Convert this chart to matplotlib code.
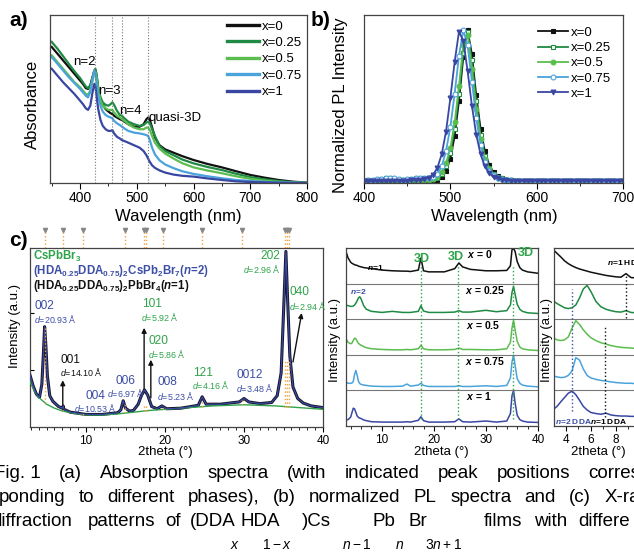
import numpy as np
import matplotlib
matplotlib.use('Agg')
import matplotlib.pyplot as plt
from matplotlib.ticker import MultipleLocator

W, H = 634, 553

plt.rcParams['font.family'] = ['Liberation Sans', 'DejaVu Sans']
plt.rcParams['mathtext.fontset'] = 'custom'
plt.rcParams['mathtext.rm'] = 'Liberation Sans'
plt.rcParams['mathtext.it'] = 'Liberation Sans:italic'
plt.rcParams['mathtext.bf'] = 'Liberation Sans:bold'
if 'mathtext.bfit' in plt.rcParams:
    plt.rcParams['mathtext.bfit'] = 'Liberation Sans:italic:bold'
plt.rcParams['axes.linewidth'] = 0.9
plt.rcParams['axes.edgecolor'] = '#444444'

# ---------------- data ----------------
labels = ['x=0', 'x=0.25', 'x=0.5', 'x=0.75', 'x=1']
colors = ['#111111', '#1f8a43', '#5cbd4f', '#4ba3dc', '#3947a3']

# (a) absorption spectra
abs_nm = [350, 360, 370, 380, 390, 400, 405, 410, 414, 418, 422, 425, 427, 429, 432, 436,
          440, 445, 450, 454, 457, 460, 465, 470, 474, 478, 485, 495, 505, 512, 517, 520,
          523, 527, 532, 540, 550, 565, 580, 600, 625, 650, 675, 700, 725, 750, 775, 800]
abs_x0 = [0.81, 0.77, 0.73, 0.69, 0.65, 0.61, 0.59, 0.565, 0.56, 0.58, 0.63, 0.665, 0.67, 0.64, 0.56, 0.50,
          0.465, 0.44, 0.425, 0.415, 0.41, 0.40, 0.39, 0.38, 0.375, 0.365, 0.35, 0.335, 0.335, 0.35, 0.38, 0.39,
          0.375, 0.33, 0.27, 0.225, 0.20, 0.18, 0.16, 0.137, 0.113, 0.093, 0.07, 0.048, 0.032, 0.018, 0.008, 0.002]
abs_x25 = [0.84, 0.80, 0.755, 0.71, 0.665, 0.625, 0.60, 0.575, 0.565, 0.58, 0.63, 0.67, 0.68, 0.65, 0.57, 0.51,
           0.48, 0.465, 0.46, 0.47, 0.48, 0.465, 0.43, 0.405, 0.40, 0.385, 0.365, 0.35, 0.34, 0.345, 0.36, 0.365,
           0.355, 0.32, 0.28, 0.22, 0.19, 0.165, 0.14, 0.117, 0.095, 0.077, 0.055, 0.035, 0.022, 0.012, 0.005, 0.001]
abs_x50 = [0.76, 0.72, 0.68, 0.64, 0.60, 0.57, 0.55, 0.53, 0.525, 0.55, 0.61, 0.655, 0.66, 0.63, 0.55, 0.49,
           0.46, 0.445, 0.435, 0.435, 0.435, 0.42, 0.40, 0.39, 0.38, 0.37, 0.35, 0.33, 0.32, 0.32, 0.33, 0.33,
           0.315, 0.28, 0.24, 0.205, 0.175, 0.145, 0.118, 0.093, 0.074, 0.058, 0.04, 0.025, 0.014, 0.007, 0.003, 0.001]
abs_x75 = [0.75, 0.71, 0.67, 0.63, 0.595, 0.56, 0.54, 0.52, 0.51, 0.54, 0.62, 0.67, 0.655, 0.60, 0.52, 0.46,
           0.425, 0.405, 0.395, 0.39, 0.385, 0.37, 0.355, 0.345, 0.335, 0.325, 0.31, 0.30, 0.295, 0.29, 0.285, 0.28,
           0.255, 0.21, 0.17, 0.135, 0.11, 0.088, 0.07, 0.054, 0.04, 0.028, 0.018, 0.012, 0.007, 0.004, 0.002, 0.0]
abs_x100 = [0.68, 0.64, 0.60, 0.565, 0.53, 0.49, 0.47, 0.445, 0.435, 0.46, 0.54, 0.59, 0.575, 0.52, 0.44, 0.375,
            0.34, 0.32, 0.31, 0.31, 0.315, 0.295, 0.275, 0.265, 0.255, 0.25, 0.24, 0.225, 0.21, 0.19, 0.165, 0.145,
            0.125, 0.105, 0.09, 0.075, 0.062, 0.05, 0.043, 0.038, 0.027, 0.018, 0.01, 0.006, 0.004, 0.002, 0.001, 0.0]
abs_lines = [427, 457, 474, 520]

# (b) normalized PL, 400-700 nm every 5 nm
pl_nm = np.arange(400, 705, 5)
pl_x0 = [0.0, 0.0, 0.0, 0.0, 0.0, 0.0, 0.0, 0.0, 0.0, 0.0, 0.0, 0.0, 0.0, 0.0, 0.0, 0.0,
         0.0, 0.01, 0.03, 0.07, 0.15, 0.30, 0.53, 0.82, 1.00, 0.84, 0.57, 0.35, 0.20, 0.11, 0.06, 0.035,
         0.02, 0.012, 0.008, 0.006, 0.005, 0.005, 0.004, 0.004, 0.004, 0.004, 0.003, 0.003, 0.003, 0.003,
         0.003, 0.003, 0.003, 0.003, 0.003, 0.003, 0.003, 0.003, 0.003, 0.003, 0.003, 0.003, 0.003, 0.003, 0.003]
pl_x25 = [0.005, 0.008, 0.01, 0.012, 0.015, 0.02, 0.022, 0.018, 0.012, 0.01, 0.012, 0.016, 0.02, 0.02, 0.016, 0.014,
          0.015, 0.025, 0.05, 0.10, 0.19, 0.35, 0.58, 0.85, 0.99, 0.80, 0.53, 0.31, 0.17, 0.09, 0.05, 0.03,
          0.02, 0.012, 0.008, 0.006, 0.005, 0.005, 0.004, 0.004, 0.004, 0.004, 0.004, 0.004, 0.004, 0.004,
          0.004, 0.004, 0.004, 0.004, 0.004, 0.004, 0.004, 0.004, 0.004, 0.004, 0.004, 0.004, 0.004, 0.004, 0.004]
pl_x50 = [0.004, 0.005, 0.006, 0.007, 0.008, 0.01, 0.01, 0.009, 0.008, 0.008, 0.009, 0.01, 0.012, 0.012, 0.012, 0.013,
          0.016, 0.03, 0.06, 0.12, 0.22, 0.39, 0.63, 0.90, 0.97, 0.74, 0.48, 0.28, 0.15, 0.08, 0.045, 0.025,
          0.015, 0.01, 0.007, 0.005, 0.004, 0.004, 0.004, 0.004, 0.004, 0.004, 0.004, 0.004, 0.004, 0.004,
          0.004, 0.004, 0.004, 0.004, 0.004, 0.004, 0.004, 0.004, 0.004, 0.004, 0.004, 0.004, 0.004, 0.004, 0.004]
pl_x75 = [0.006, 0.008, 0.012, 0.015, 0.018, 0.022, 0.024, 0.02, 0.014, 0.012, 0.014, 0.018, 0.022, 0.024, 0.022, 0.022,
          0.03, 0.05, 0.10, 0.20, 0.36, 0.58, 0.83, 1.00, 0.90, 0.66, 0.42, 0.24, 0.13, 0.07, 0.04, 0.025,
          0.015, 0.01, 0.007, 0.005, 0.004, 0.004, 0.004, 0.004, 0.004, 0.004, 0.004, 0.004, 0.004, 0.004,
          0.004, 0.004, 0.004, 0.004, 0.004, 0.004, 0.004, 0.004, 0.004, 0.004, 0.004, 0.004, 0.004, 0.004, 0.004]
pl_x100 = [0.0, 0.0, 0.002, 0.003, 0.004, 0.005, 0.005, 0.005, 0.005, 0.006, 0.006, 0.007, 0.008, 0.01, 0.015, 0.025,
           0.045, 0.09, 0.18, 0.33, 0.55, 0.79, 0.99, 0.93, 0.73, 0.50, 0.31, 0.18, 0.10, 0.055, 0.03, 0.02,
           0.012, 0.008, 0.006, 0.005, 0.005, 0.005, 0.005, 0.005, 0.005, 0.005, 0.005, 0.005, 0.005, 0.005,
           0.005, 0.005, 0.005, 0.005, 0.005, 0.005, 0.005, 0.005, 0.005, 0.005, 0.005, 0.005, 0.005, 0.005, 0.005]
pl_markers = ['s', 's', 'o', 'o', 'v']
pl_filled = [True, False, True, False, True]

# (c) XRD of the x=0.75 film with fit and background
xrd_tt = [2.9, 3.3, 3.7, 4.1, 4.4, 4.6, 4.75, 4.9, 5.1, 5.4, 5.8, 6.5, 7.0, 7.1, 7.2, 8.0, 10.0, 12.0, 14.0, 14.4,
          14.7, 15.0, 15.5, 16.0, 16.6, 17.0, 17.4, 17.8, 18.3, 19.0, 19.6, 20.2, 22.0, 24.2, 24.7, 25.2, 27.0,
          29.4, 30.0, 30.6, 32.0, 33.5, 34.2, 34.7, 35.0, 35.3, 35.5, 35.8, 36.2, 36.8, 37.5, 38.5, 40.0]
xrd_int = [0.91, 0.72, 0.58, 0.52, 0.75, 1.30, 1.76, 1.45, 0.90, 0.55, 0.45, 0.36, 0.33, 0.37, 0.31, 0.26, 0.22,
           0.22, 0.25, 0.30, 0.46, 0.33, 0.28, 0.29, 0.40, 0.55, 0.65, 0.56, 0.36, 0.32, 0.37, 0.32, 0.33, 0.38,
           0.53, 0.40, 0.40, 0.44, 0.50, 0.44, 0.41, 0.43, 0.55, 0.95, 2.00, 3.08, 2.30, 1.25, 0.70, 0.50, 0.42,
           0.37, 0.34]
bg_tt = [2.9, 3.5, 4.0, 5.0, 6.0, 7.0, 8.5, 10, 12, 14, 16, 18, 20, 22, 24, 26, 28, 30, 32, 34, 36, 38, 40]
bg_int = [0.80, 0.62, 0.52, 0.40, 0.33, 0.28, 0.24, 0.21, 0.21, 0.23, 0.26, 0.29, 0.31, 0.33, 0.35, 0.37, 0.38,
          0.39, 0.38, 0.37, 0.35, 0.33, 0.31]
ref_tt = [4.8, 7.1, 9.6, 14.9, 17.3, 17.6, 19.7, 24.7, 29.7, 35.2, 35.5, 35.7]
ref_top = [1.73, 0.30, 0.27, 0.42, 0.40, 0.40, 0.36, 0.45, 0.47, 1.20, 1.20, 1.20]

# peak labels: (text, 2theta, intensity, colour key)
peak_hkl = [('002', 3.5, 2.12, 'b'), ('001', 6.7, 1.17, 'k'), ('004', 9.9, 0.55, 'b'),
            ('006', 13.7, 0.81, 'b'), ('101', 17.1, 2.15, 'g'), ('020', 17.9, 1.50, 'g'),
            ('008', 19.0, 0.79, 'b'), ('121', 23.5, 0.95, 'g'), ('0012', 29.0, 0.92, 'b'),
            ('202', 32.1, 3.00, 'g'), ('040', 35.7, 2.36, 'g')]
peak_d = [('20.93', 3.45, 1.90, 'b'), ('14.10', 6.7, 0.96, 'k'), ('10.53', 8.5, 0.34, 'b'),
          ('6.97', 12.7, 0.60, 'b'), ('5.92', 17.0, 1.93, 'g'), ('5.86', 17.9, 1.28, 'g'),
          ('5.23', 19.0, 0.55, 'b'), ('4.16', 23.4, 0.73, 'g'), ('3.48', 29.0, 0.69, 'b'),
          ('2.96', 29.9, 2.77, 'g'), ('2.94', 35.7, 2.13, 'g')]

# (c) middle: stacked XRD for each x
mid_tt = [3.1, 3.5, 4.0, 4.25, 4.5, 4.75, 5.0, 5.25, 5.5, 5.75, 6.0, 6.5, 7.0, 8.0, 10.0, 12.0, 14.0, 14.8,
          15.5, 17.0, 17.5, 18.0, 19.0, 20.0, 22.0, 24.0, 24.8, 25.5, 27.0, 30.0, 32.0, 34.0, 34.7, 35.0,
          35.3, 35.6, 36.0, 36.5, 37.0, 38.0, 40.0]
mid_x0 = [0.90, 0.72, 0.60, 0.57, 0.55, 0.53, 0.52, 0.51, 0.49, 0.48, 0.47, 0.45, 0.44, 0.42, 0.38, 0.36, 0.35,
          0.35, 0.34, 0.38, 0.72, 0.36, 0.33, 0.33, 0.33, 0.42, 0.58, 0.47, 0.40, 0.36, 0.36, 0.37, 0.50, 0.95,
          0.99, 0.90, 0.62, 0.45, 0.38, 0.33, 0.29]
mid_x25 = [0.40, 0.38, 0.36, 0.36, 0.37, 0.40, 0.45, 0.52, 0.60, 0.63, 0.57, 0.38, 0.28, 0.22, 0.19, 0.22, 0.19,
           0.19, 0.19, 0.22, 0.38, 0.23, 0.19, 0.19, 0.19, 0.20, 0.24, 0.20, 0.20, 0.25, 0.21, 0.24, 0.40, 0.75,
           0.92, 0.70, 0.42, 0.28, 0.22, 0.18, 0.16]
mid_x50 = [0.46, 0.35, 0.31, 0.33, 0.40, 0.47, 0.45, 0.38, 0.32, 0.29, 0.27, 0.23, 0.20, 0.17, 0.15, 0.14, 0.14,
           0.15, 0.14, 0.17, 0.27, 0.17, 0.14, 0.14, 0.14, 0.15, 0.19, 0.15, 0.15, 0.14, 0.14, 0.17, 0.35, 0.75,
           0.97, 0.70, 0.38, 0.22, 0.17, 0.14, 0.12]
mid_x75 = [0.23, 0.20, 0.20, 0.21, 0.25, 0.45, 0.56, 0.42, 0.25, 0.19, 0.17, 0.15, 0.14, 0.12, 0.11, 0.11, 0.12,
           0.18, 0.12, 0.15, 0.20, 0.14, 0.11, 0.11, 0.11, 0.11, 0.13, 0.11, 0.11, 0.13, 0.11, 0.14, 0.35, 0.80,
           0.99, 0.70, 0.33, 0.20, 0.15, 0.12, 0.10]
mid_x100 = [0.17, 0.18, 0.25, 0.38, 0.50, 0.48, 0.38, 0.28, 0.24, 0.22, 0.21, 0.17, 0.15, 0.12, 0.11, 0.11, 0.11,
            0.12, 0.11, 0.16, 0.26, 0.15, 0.11, 0.11, 0.11, 0.12, 0.20, 0.12, 0.11, 0.14, 0.11, 0.14, 0.35, 0.85,
            1.00, 0.65, 0.30, 0.18, 0.14, 0.11, 0.10]
mid_3d = [17.5, 24.7, 35.2]
x_texts = ['0', '0.25', '0.5', '0.75', '1']

# (c) right: low-angle zoom
rt_tt = [3.06, 3.3, 3.6, 3.9, 4.2, 4.5, 4.8, 5.1, 5.4, 5.7, 6.0, 6.4, 6.8, 7.2, 7.6, 8.0, 8.4, 8.8, 9.2, 9.6, 10.0]
rt_x0 = [0.93, 0.85, 0.75, 0.64, 0.56, 0.50, 0.45, 0.41, 0.38, 0.35, 0.32, 0.29, 0.26, 0.23, 0.21, 0.19, 0.18,
         0.28, 0.17, 0.16, 0.15]
rt_x25 = [0.50, 0.44, 0.38, 0.32, 0.30, 0.32, 0.40, 0.60, 0.85, 0.95, 0.78, 0.50, 0.35, 0.28, 0.24, 0.21, 0.20,
          0.24, 0.19, 0.18, 0.17]
rt_x50 = [0.47, 0.42, 0.40, 0.42, 0.50, 0.75, 0.96, 0.85, 0.70, 0.58, 0.48, 0.40, 0.34, 0.30, 0.26, 0.23, 0.21,
          0.20, 0.19, 0.18, 0.17]
rt_x75 = [0.40, 0.38, 0.36, 0.37, 0.42, 0.55, 0.92, 0.85, 0.60, 0.42, 0.35, 0.31, 0.28, 0.26, 0.24, 0.22, 0.21,
          0.20, 0.20, 0.19, 0.19]
rt_x100 = [0.48, 0.55, 0.68, 0.80, 0.92, 0.98, 0.88, 0.72, 0.55, 0.45, 0.38, 0.35, 0.33, 0.36, 0.31, 0.29, 0.28,
           0.28, 0.27, 0.27, 0.26]

TXT = {'g': '#2ea34a', 'b': '#3d4ea6', 'k': '#111111'}
ORANGE = '#f0a03c'


def box(l, t, r, b):
    return [l / W, 1 - b / H, (r - l) / W, (b - t) / H]


fig = plt.figure(figsize=(W / 100, H / 100), dpi=100)


def ftext(x, y, s, **kw):
    return fig.text(x / W, 1 - y / H, s, **kw)


# ---------------- (a) ----------------
ax_a = fig.add_axes(box(50, 15, 307, 183))
for vals, c, lab in zip([abs_x0, abs_x25, abs_x50, abs_x75, abs_x100], colors, labels):
    ax_a.plot(abs_nm, vals, color=c, lw=1.6, label=lab)
for v in abs_lines:
    ax_a.axvline(v, color='#777777', lw=0.8, ls=':')
ax_a.set_xlim(347, 800)
ax_a.set_ylim(0, 1)
ax_a.set_yticks([])
ax_a.xaxis.set_major_locator(MultipleLocator(100))
ax_a.xaxis.set_minor_locator(MultipleLocator(50))
ax_a.tick_params(axis='x', which='major', length=4, labelsize=10, pad=2)
ax_a.tick_params(axis='x', which='minor', length=2.5)
for s, xx, yy in [('n=2', 408, 0.72), ('n=3', 452, 0.545), ('n=4', 488, 0.43), ('quasi-3D', 568, 0.385)]:
    ax_a.text(xx, yy, s, fontsize=9.5, ha='center', va='center')
leg = ax_a.legend(loc='upper right', frameon=False, fontsize=9.5, handlelength=2.4,
                  handletextpad=0.2, labelspacing=0.32, borderaxespad=0.0)
for h in leg.get_lines():
    h.set_linewidth(2.4)

# ---------------- (b) ----------------
ax_b = fig.add_axes(box(364, 15, 623, 183))
for vals, c, lab, m, f in zip([pl_x0, pl_x25, pl_x50, pl_x75, pl_x100], colors, labels, pl_markers, pl_filled):
    ax_b.plot(pl_nm, vals, color=c, lw=1.3, marker=m, ms=3.5, mew=0.8,
              mfc=c if f else 'white', mec=c, label=lab)
ax_b.set_xlim(400, 700)
ax_b.set_ylim(-0.01, 1.1)
ax_b.set_yticks([])
ax_b.xaxis.set_major_locator(MultipleLocator(100))
ax_b.xaxis.set_minor_locator(MultipleLocator(50))
ax_b.tick_params(axis='x', which='major', length=4, labelsize=10, pad=2)
ax_b.tick_params(axis='x', which='minor', length=2.5)
ax_b.legend(loc='upper right', frameon=False, fontsize=9.5, handlelength=2.3,
            handletextpad=0.2, labelspacing=0.22, borderaxespad=0.5)

# ---------------- (c) main ----------------
ax_c = fig.add_axes(box(30, 248, 323, 427))
ax_c.plot(bg_tt, bg_int, color='#2ea34a', lw=1.0, zorder=3)
ax_c.plot(xrd_tt, xrd_int, color='#151525', lw=2.2, zorder=2)
ax_c.plot(xrd_tt, xrd_int, color='#3947a3', lw=0.9, zorder=4)
for xx, top in zip(ref_tt, ref_top):
    ax_c.plot([xx, xx], [np.interp(xx, bg_tt, bg_int), top], color=ORANGE, lw=1.0, ls=':', zorder=5)
ax_c.set_xlim(2.9, 40)
ax_c.set_ylim(0, 3.14)
ax_c.set_yticks([1, 2])
ax_c.set_yticklabels([])
ax_c.xaxis.set_major_locator(MultipleLocator(10))
ax_c.xaxis.set_minor_locator(MultipleLocator(1))
ax_c.tick_params(axis='x', which='major', length=3.5, labelsize=8.5, pad=2)
ax_c.tick_params(axis='x', which='minor', length=2)
ax_c.tick_params(axis='y', length=3, direction='in')

for s, xx, yy, k in peak_hkl:
    ax_c.text(xx, yy, s, color=TXT[k], fontsize=8.6, ha='left', va='center', clip_on=False)
for s, xx, yy, k in peak_d:
    ax_c.text(xx, yy, r'$d$=' + s + ' Å', color=TXT[k], fontsize=6.4, ha='left', va='center', clip_on=False)

ax_c.text(3.3, 2.99, r'CsPbBr$_{\mathbf{3}}$', color=TXT['g'], fontsize=8.3, fontweight='bold', va='center')
ax_c.text(3.3, 2.73, r'(HDA$_{\mathbf{0.25}}$DDA$_{\mathbf{0.75}}$)$_{\mathbf{2}}$CsPb$_{\mathbf{2}}$Br$_{\mathbf{7}}$($\mathbfit{n}$=2)',
          color=TXT['b'], fontsize=8.3, fontweight='bold', va='center')
ax_c.text(3.3, 2.47, r'(HDA$_{\mathbf{0.25}}$DDA$_{\mathbf{0.75}}$)$_{\mathbf{2}}$PbBr$_{\mathbf{4}}$($\mathbfit{n}$=1)',
          color=TXT['k'], fontsize=8.3, fontweight='bold', va='center')

arw = dict(arrowstyle='-|>', color='#111111', lw=1.0, mutation_scale=7, shrinkA=0, shrinkB=0)
ax_c.annotate('', xy=(7.05, 0.82), xytext=(7.05, 0.33), arrowprops=arw)
ax_c.annotate('', xy=(17.35, 1.74), xytext=(17.35, 0.66), arrowprops=arw)
ax_c.annotate('', xy=(18.2, 1.18), xytext=(18.2, 0.51), arrowprops=arw)
ax_c.annotate('', xy=(37.3, 2.0), xytext=(36.2, 1.14), arrowprops=arw)

# reference markers above panel c
ax_t = fig.add_axes(box(30, 227, 323, 248), sharex=ax_c)
ax_t.set_ylim(0, 1)
ax_t.axis('off')
for xx in ref_tt:
    ax_t.plot([xx, xx], [0, 0.8], color=ORANGE, lw=1.0, ls=':')
ax_t.plot(ref_tt, [0.88] * len(ref_tt), ls='none', marker='v', ms=3, color='#888888')

# ---------------- (c) middle ----------------
ax_m = fig.add_axes(box(346, 248, 538, 426))
mids = [mid_x0, mid_x25, mid_x50, mid_x75, mid_x100]
for i, (vals, c) in enumerate(zip(mids, colors)):
    off = 4 - i
    ax_m.plot(mid_tt, np.array(vals) + off, color=c, lw=1.1)
for yy in [1, 2, 3, 4]:
    ax_m.axhline(yy, color='#777777', lw=0.8)
for xx in mid_3d:
    ax_m.plot([xx, xx], [0.2, 4.5], color='#2ea34a', lw=1.0, ls=':')
ax_m.set_xlim(3.1, 40)
ax_m.set_ylim(0, 5)
ax_m.set_yticks([])
ax_m.xaxis.set_major_locator(MultipleLocator(10))
ax_m.xaxis.set_minor_locator(MultipleLocator(2))
ax_m.tick_params(axis='x', which='major', length=3.5, labelsize=8.5, pad=2)
ax_m.tick_params(axis='x', which='minor', length=2)
for (xx, yy) in [(17.7, 4.69), (24.3, 4.75), (37.6, 4.85)]:
    ax_m.text(xx, yy, '3D', color='#2ea34a', fontsize=9, fontweight='bold', ha='center', va='center')
for i, (s, xx) in enumerate(zip(x_texts, [28.7, 29.8, 29.5, 29.8, 28.7])):
    off = 4 - i
    ax_m.text(xx, off + 0.83, r'$\mathbfit{x}$ = ' + s, fontsize=7.5, fontweight='bold',
              ha='center', va='center')
ax_m.text(8.7, 4.44, r'$\mathbfit{n}$=1', fontsize=6, fontweight='bold', ha='center', va='center')
ax_m.text(5.5, 3.77, r'$\mathbfit{n}$=2', fontsize=6, fontweight='bold', color=TXT['b'],
          ha='center', va='center')

# ---------------- (c) right ----------------
ax_r = fig.add_axes(box(554, 248, 641, 426))
rts = [rt_x0, rt_x25, rt_x50, rt_x75, rt_x100]
for i, (vals, c) in enumerate(zip(rts, colors)):
    off = 4 - i
    ax_r.plot(rt_tt, np.array(vals) + off, color=c, lw=1.1)
for yy in [1, 2, 3, 4]:
    ax_r.axhline(yy, color='#777777', lw=0.8)
ax_r.plot([8.8, 8.8], [3.03, 4.27], color='#111111', lw=1.0, ls=':')
ax_r.plot([4.53, 4.53], [0.43, 3.85], color=TXT['b'], lw=1.0, ls=':')
ax_r.plot([7.15, 7.15], [0.24, 2.77], color='#111111', lw=1.0, ls=':')
ax_r.set_xlim(3.06, 10)
ax_r.set_ylim(0, 5)
ax_r.set_yticks([])
ax_r.xaxis.set_major_locator(MultipleLocator(2))
ax_r.xaxis.set_minor_locator(MultipleLocator(1))
ax_r.tick_params(axis='x', which='major', length=3.5, labelsize=8.5, pad=2)
ax_r.tick_params(axis='x', which='minor', length=2)
ax_r.text(7.3, 4.6, r'$\mathbfit{n}$=1 HDA', fontsize=6, fontweight='bold', va='center')
ax_r.text(3.15, 0.12, r'$\mathbfit{n}$=2 DDA', fontsize=6, fontweight='bold', color=TXT['b'], va='center')
ax_r.text(5.9, 0.12, r'$\mathbfit{n}$=1 DDA', fontsize=6, fontweight='bold', va='center')

# ---------------- axis titles and panel letters ----------------
ftext(32, 104, 'Absorbance', rotation=90, fontsize=12, ha='center', va='center')
ftext(340, 105, 'Normalized PL Intensity', rotation=90, fontsize=12, ha='center', va='center')
ftext(178, 217, 'Wavelength (nm)', fontsize=12, ha='center', va='center')
ftext(494, 217, 'Wavelength (nm)', fontsize=12, ha='center', va='center')
ftext(15, 326, 'Intensity (a.u.)', rotation=90, fontsize=9.5, ha='center', va='center')
ftext(335, 340, 'Intensity (a.u.)', rotation=90, fontsize=9.5, ha='center', va='center')
ftext(547, 340, 'Intensity (a.u.)', rotation=90, fontsize=9.5, ha='center', va='center')
ftext(165, 452, '2theta (°)', fontsize=9.5, ha='center', va='center')
ftext(441, 452, '2theta (°)', fontsize=9.5, ha='center', va='center')
ftext(598, 452, '2theta (°)', fontsize=9.5, ha='center', va='center')
ftext(9, 21, 'a)', fontsize=15, fontweight='bold', va='center')
ftext(311, 21, 'b)', fontsize=15, fontweight='bold', va='center')
ftext(9, 241, 'c)', fontsize=15, fontweight='bold', va='center')

# ---------------- caption ----------------
CAP = 13.5
renderer = fig.canvas.get_renderer()


def justify(words, y, x0, x1):
    ts = [ftext(0, y, w, fontsize=CAP, va='center') for w in words]
    widths = [t.get_window_extent(renderer).width for t in ts]
    gap = (x1 - x0 - sum(widths)) / (len(words) - 1)
    x = x0
    for t, w in zip(ts, widths):
        t.set_x(x / W)
        x += w + gap


justify(['Fig. 1', '(a)', 'Absorption', 'spectra', '(with', 'indicated', 'peak', 'positions', 'corres'],
        474, -6, 640)
justify(['ponding', 'to', 'different', 'phases),', '(b)', 'normalized', 'PL', 'spectra', 'and', '(c)', 'X-ra'],
        498, -1, 640)
for w, xx in [('diffraction', -9), ('patterns', 88), ('of', 165), ('(DDA', 190), ('HDA', 240), (')Cs', 302),
              ('Pb', 372), ('Br', 408), ('films', 484), ('with', 534), ('differe', 578)]:
    ftext(xx, 521, w, fontsize=CAP, va='center')
for w, xx in [(r'$x$', 230), (r'$1-x$', 262), (r'$n-1$', 342), (r'$n$', 395), (r'$3n+1$', 425)]:
    ftext(xx, 545, w, fontsize=10, va='center')

fig.savefig('out.png', dpi=100)
